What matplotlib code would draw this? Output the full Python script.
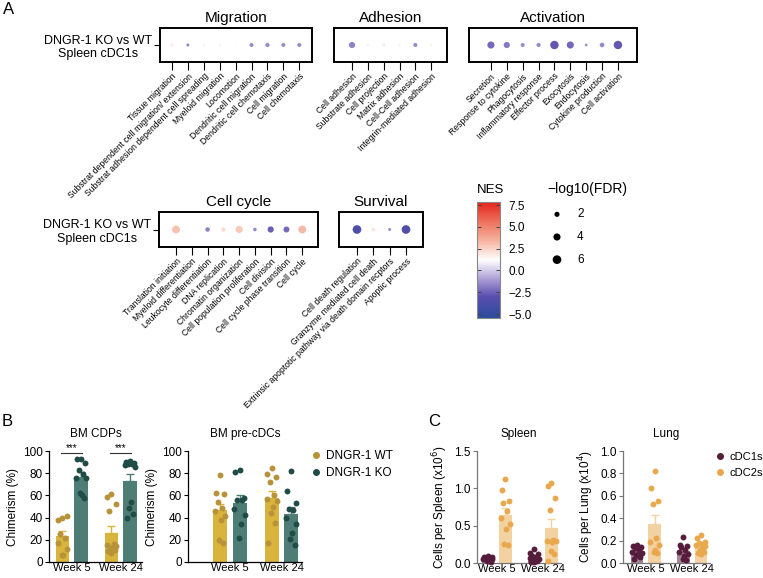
import numpy as np
import matplotlib
matplotlib.use('Agg')
import matplotlib.pyplot as plt
from matplotlib.colors import LinearSegmentedColormap, Normalize
from matplotlib.cm import ScalarMappable
from matplotlib.lines import Line2D

plt.rcParams['font.family'] = ['Liberation Sans', 'DejaVu Sans']
plt.rcParams['axes.unicode_minus'] = True

# ---- panel A data (NES colour, -log10(FDR) size) ----
migration_terms = ['Tissue migration', 'Substrat dependent cell migration/ extension',
                   'Substrat adhesion dependent cell spreading', 'Myeloid migration',
                   'Locomotion', 'Dendritic cell migration', 'Dendritic cell chemotaxis',
                   'Cell migration', 'Cell chemotaxis']
migration_nes = [1.9, -1.6, 0.9, 0.9, 1.1, -1.5, -1.5, -1.4, -1.4]
migration_fdr = [0.5, 0.6, 0.3, 0.3, 0.2, 1.2, 1.3, 1.2, 1.2]

adhesion_terms = ['Cell adhesion', 'Substrate adhesion', 'Cell projection',
                  'Matrix adhesion', 'Cell-Cell adhesion', 'Integrin-mediated adhesion']
adhesion_nes = [-1.7, 0.9, 1.9, 0.9, -1.5, 0.9]
adhesion_fdr = [3.0, 0.3, 0.5, 0.3, 1.2, 0.3]

activation_terms = ['Secretion', 'Response to cytokine', 'Phagocytosis',
                    'Inflammatory response', 'Effector process', 'Exocytosis',
                    'Endocytosis', 'Cytokine production', 'Cell activation']
activation_nes = [-2.3, -1.9, -1.4, -1.4, -2.8, -2.3, -1.3, -1.5, -2.8]
activation_fdr = [4.0, 3.0, 1.2, 1.3, 5.7, 4.0, 0.5, 1.6, 5.7]

cellcycle_terms = ['Translation initiation', 'Myeloid differentiation',
                   'Leukocyte differentiation', 'DNA replication', 'Chromatin organization',
                   'Cell population proliferation', 'Cell division',
                   'Cell cycle phase transition', 'Cell cycle']
cellcycle_nes = [3.0, 1.3, -1.8, 2.3, 2.8, -1.5, -2.6, -2.3, 3.2]
cellcycle_fdr = [5.0, 0.2, 1.5, 1.3, 4.0, 0.9, 3.0, 2.8, 5.0]

survival_terms = ['Cell death regulation', 'Granzyme mediated cell death',
                  'Extrinsic apoptotic pathway via death domain recptors', 'Apoptic process']
survival_nes = [-3.5, 2.0, -1.4, -3.5]
survival_fdr = [6.0, 0.8, 0.6, 6.0]

row_label = 'DNGR-1 KO vs WT\nSpleen cDC1s'
fdr_legend = [2, 4, 6]
nes_ticks = [7.5, 5.0, 2.5, 0.0, -2.5, -5.0]

# ---- panel B data (chimerism %) ----
weeks = ['Week 5', 'Week 24']
cdp_wt5 = [40, 38, 41, 25, 22, 17, 12, 6, 6]
cdp_ko5 = [93, 93, 89, 83, 79, 76, 76, 60, 62, 58]
cdp_wt24 = [61, 59, 52, 46, 16, 15, 14, 13, 12, 11, 10, 8]
cdp_ko24 = [91, 90, 89, 88, 88, 87, 86, 54, 49, 43, 40]
pre_wt5 = [78, 62, 61, 54, 49, 46, 41, 38, 20, 17]
pre_ko5 = [83, 81, 58, 56, 56, 48, 42, 34, 22]
pre_wt24 = [85, 79, 77, 72, 60, 57, 55, 50, 44, 35, 17]
pre_ko24 = [82, 64, 53, 48, 47, 40, 34, 26, 21, 15]

# ---- panel C data ----
spl_c1_5 = [0.09, 0.08, 0.08, 0.07, 0.06, 0.05, 0.05, 0.04, 0.03, 0.02]
spl_c2_5 = [1.12, 0.98, 0.83, 0.80, 0.70, 0.60, 0.52, 0.45, 0.25, 0.24]
spl_c1_24 = [0.19, 0.14, 0.12, 0.10, 0.08, 0.07, 0.06, 0.05, 0.04, 0.03, 0.02, 0.01]
spl_c2_24 = [1.07, 1.03, 0.87, 0.71, 0.31, 0.30, 0.29, 0.28, 0.16, 0.12, 0.03]
lung_c1_5 = [0.16, 0.15, 0.14, 0.13, 0.12, 0.10, 0.09, 0.08, 0.07, 0.05, 0.04]
lung_c2_5 = [0.82, 0.67, 0.55, 0.53, 0.22, 0.19, 0.16, 0.12, 0.10, 0.09]
lung_c1_24 = [0.23, 0.16, 0.15, 0.14, 0.12, 0.10, 0.08, 0.06, 0.04, 0.03]
lung_c2_24 = [0.25, 0.22, 0.19, 0.18, 0.17, 0.16, 0.15, 0.13, 0.12, 0.10, 0.09, 0.08]

W, H = 763, 578


def box(x0, y0, x1, y1):
    return [x0 / W, 1 - y1 / H, (x1 - x0) / W, (y1 - y0) / H]


def dot_size(v):
    return 1 + 6.3 * np.asarray(v, dtype=float)


vmin, vmax = -5.45, 7.85
nodes = [(-5.45, '#2b4b9b'), (-3.0, '#5a4fae'), (-1.2, '#a395d2'), (1.2, '#ffffff'),
         (3.5, '#f5b09c'), (5.5, '#ee7560'), (7.85, '#e3241c')]
cmap = LinearSegmentedColormap.from_list(
    'nes', [((v - vmin) / (vmax - vmin), c) for v, c in nodes])
norm = Normalize(vmin, vmax)

fig = plt.figure(figsize=(W / 100, H / 100), dpi=100)


def dot_panel(rect, title, terms, nes, fdr, xlim, label=False):
    ax = fig.add_axes(box(*rect))
    x = np.arange(len(terms))
    ax.scatter(x, np.zeros(len(terms)), s=dot_size(fdr), c=nes, cmap=cmap,
               norm=norm, linewidths=0, zorder=3)
    ax.set_xlim(*xlim)
    ax.set_ylim(-1, 1)
    ax.set_xticks(x)
    ax.set_xticklabels(terms, rotation=45, ha='right', rotation_mode='anchor',
                       fontsize=6.2)
    ax.tick_params(axis='x', length=5.5, width=0.8, pad=1.5)
    if label:
        ax.set_yticks([0])
        ax.set_yticklabels([row_label], fontsize=9, multialignment='center')
        ax.tick_params(axis='y', length=4, width=0.8, pad=2)
    else:
        ax.set_yticks([])
    for sp in ax.spines.values():
        sp.set_linewidth(1.4)
    ax.set_title(title, fontsize=11, pad=4)
    return ax


dot_panel((160, 28, 312, 62), 'Migration', migration_terms, migration_nes,
          migration_fdr, (-0.75, 8.8), label=True)
dot_panel((334, 28, 447, 62), 'Adhesion', adhesion_terms, adhesion_nes,
          adhesion_fdr, (-1.14, 6.0))
dot_panel((469, 28, 637, 62), 'Activation', activation_terms, activation_nes,
          activation_fdr, (-1.38, 9.2))
dot_panel((159, 212, 318, 247), 'Cell cycle', cellcycle_terms, cellcycle_nes,
          cellcycle_fdr, (-1.08, 9.0), label=True)
dot_panel((339, 212, 423, 247), 'Survival', survival_terms, survival_nes,
          survival_fdr, (-1.1, 4.04))

# colour bar
cax = fig.add_axes(box(477, 202, 500, 318))
cb = fig.colorbar(ScalarMappable(norm=norm, cmap=cmap), cax=cax)
cb.set_ticks(nes_ticks)
cb.set_ticklabels([f'{t:.1f}'.replace('-', '\u2212') for t in nes_ticks])
cb.outline.set_edgecolor('#888888')
cb.outline.set_linewidth(0.8)
cax.tick_params(length=3, width=0.7, direction='in', left=True, right=True,
                labelsize=8.5, pad=6, color='#444444')
fig.text(477 / W, 1 - 196 / H, 'NES', fontsize=9.5, va='bottom', ha='left')

# size legend
lax = fig.add_axes(box(547, 203, 600, 271))
lax.scatter(np.zeros(len(fdr_legend)), np.arange(len(fdr_legend)),
            s=dot_size(fdr_legend), color='black', linewidths=0)
for i, v in enumerate(fdr_legend):
    lax.text(20, i, str(v), fontsize=8.5, va='center', ha='left')
lax.set_xlim(-10, 43)
lax.set_ylim(len(fdr_legend) - 0.5, -0.5)
lax.axis('off')
fig.text(547 / W, 1 - 196 / H, '\u2212log10(FDR)', fontsize=10, va='bottom', ha='left')

# ---- bar panels ----
wt_bar, wt_dot = '#d8b43c', '#b89238'
ko_bar, ko_dot = '#4e7d76', '#1f4c46'
c1_bar, c1_dot = '#a48595', '#561c3c'
c2_bar, c2_dot = '#f3d2a2', '#e9a84e'

pos = [0, 1, 2.65, 3.65]
offs = [0.0, -0.22, 0.22, -0.11, 0.11, -0.26, 0.26, 0.05, -0.05, 0.17, -0.17, 0.0]


def bar_panel(rect, groups, bars, dots, ylim, yticks, ylabel, title, xlim,
              spine='black', fmt='{:.0f}'):
    ax = fig.add_axes(box(*rect))
    for p, g, bc, dc in zip(pos, groups, bars, dots):
        g = np.asarray(g, dtype=float)
        m = g.mean()
        se = g.std(ddof=1) / np.sqrt(len(g))
        ax.bar(p, m, width=0.72, color=bc, zorder=1)
        ax.errorbar(p, m, yerr=[[0], [se]], color=bc, capsize=3, lw=1,
                    capthick=1, zorder=2)
        ax.scatter(p + np.array(offs[:len(g)]), g, s=18, color=dc,
                   linewidths=0, zorder=3, clip_on=False)
    ax.set_xlim(*xlim)
    ax.set_ylim(*ylim)
    ax.set_yticks(yticks)
    ax.set_yticklabels([fmt.format(t) for t in yticks])
    ax.set_xticks([(pos[0] + pos[1]) / 2, (pos[2] + pos[3]) / 2])
    ax.set_xticklabels(weeks)
    ax.tick_params(axis='x', length=0, labelsize=8, pad=0.5)
    ax.tick_params(axis='y', length=3, width=0.8, labelsize=8.5, pad=1.5,
                   color=spine)
    for s in ['top', 'right']:
        ax.spines[s].set_visible(False)
    for s in ['left', 'bottom']:
        ax.spines[s].set_color(spine)
        ax.spines[s].set_linewidth(0.9)
    ax.set_ylabel(ylabel, fontsize=8.5, labelpad=3)
    ax.set_title(title, fontsize=8.5, pad=10)
    return ax


axb1 = bar_panel((49, 451, 142, 562), [cdp_wt5, cdp_ko5, cdp_wt24, cdp_ko24],
                 [wt_bar, ko_bar] * 2, [wt_dot, ko_dot] * 2, (0, 100),
                 [0, 20, 40, 60, 80, 100], 'Chimerism (%)', 'BM CDPs', (-0.73, 4.3))
for a, b in [(pos[0], pos[1]), (pos[2], pos[3])]:
    axb1.plot([a - 0.1, b + 0.05], [98, 98], color='#333333', lw=0.8, clip_on=False)
    axb1.text((a + b) / 2 - 0.03, 98.5, '***', ha='center', va='bottom', fontsize=7)

bar_panel((188, 451, 302, 562), [pre_wt5, pre_ko5, pre_wt24, pre_ko24],
          [wt_bar, ko_bar] * 2, [wt_dot, ko_dot] * 2, (0, 100),
          [0, 20, 40, 60, 80, 100], 'Chimerism (%)', 'BM pre-cDCs', (-1.64, 4.2))

bar_panel((477, 451, 561, 563), [spl_c1_5, spl_c2_5, spl_c1_24, spl_c2_24],
          [c1_bar, c2_bar] * 2, [c1_dot, c2_dot] * 2, (0, 1.5),
          [0, 0.5, 1.0, 1.5], 'Cells per Spleen (x10$^6$)', 'Spleen', (-0.63, 4.2),
          spine='#777777', fmt='{:.1f}')
bar_panel((623, 451, 710, 563), [lung_c1_5, lung_c2_5, lung_c1_24, lung_c2_24],
          [c1_bar, c2_bar] * 2, [c1_dot, c2_dot] * 2, (0, 1.0),
          [0, 0.2, 0.4, 0.6, 0.8, 1.0], 'Cells per Lung (x10$^4$)', 'Lung', (-0.8, 4.17),
          spine='#777777', fmt='{:.1f}')

leg_b = [Line2D([], [], marker='o', ls='', color=wt_dot, markersize=4, label='DNGR-1 WT'),
         Line2D([], [], marker='o', ls='', color=ko_dot, markersize=4, label='DNGR-1 KO')]
fig.legend(handles=leg_b, loc='upper left', bbox_to_anchor=(311 / W, 1 - 450 / H),
           frameon=False, fontsize=8.5, handlelength=0.8, handletextpad=0.5,
           labelspacing=0.45, borderaxespad=0, borderpad=0)
leg_c = [Line2D([], [], marker='o', ls='', color=c1_dot, markersize=4, label='cDC1s'),
         Line2D([], [], marker='o', ls='', color=c2_dot, markersize=4, label='cDC2s')]
fig.legend(handles=leg_c, loc='upper left', bbox_to_anchor=(716 / W, 1 - 452 / H),
           frameon=False, fontsize=8, handlelength=0.8, handletextpad=0.4,
           labelspacing=0.5, borderaxespad=0, borderpad=0)

fig.text(3 / W, 1 - 2 / H, 'A', fontsize=12, va='top', ha='left')
fig.text(2 / W, 1 - 414 / H, 'B', fontsize=12, va='top', ha='left')
fig.text(428 / W, 1 - 414 / H, 'C', fontsize=12, va='top', ha='left')

fig.savefig('out.png', dpi=100)
